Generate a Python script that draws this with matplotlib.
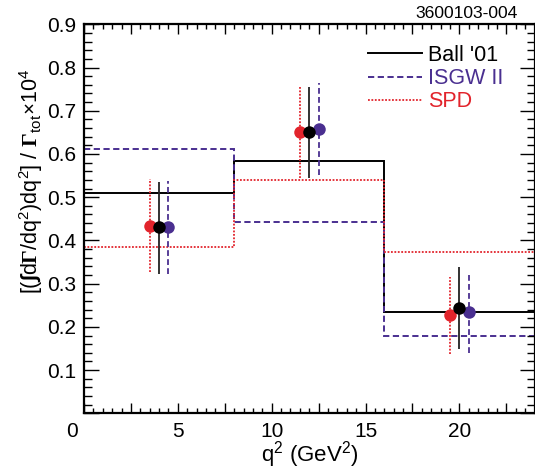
import matplotlib
matplotlib.use("Agg")
import matplotlib.pyplot as plt
from matplotlib.ticker import MultipleLocator, FuncFormatter
from matplotlib.transforms import ScaledTranslation
from matplotlib.lines import Line2D
import numpy as np

# ---- data ----
bin_edges = [0, 8, 16, 24]
ball_hist = [0.510, 0.583, 0.235]
isgw_hist = [0.611, 0.443, 0.179]
spd_hist = [0.385, 0.540, 0.373]

ball_x = [4.0, 12.0, 20.0]
ball_y = [0.431, 0.650, 0.244]
ball_lo = [0.322, 0.544, 0.148]
ball_hi = [0.536, 0.756, 0.338]

spd_x = [3.5, 11.5, 19.5]
spd_y = [0.434, 0.650, 0.227]
spd_lo = [0.326, 0.544, 0.137]
spd_hi = [0.541, 0.756, 0.316]

isgw_x = [4.5, 12.5, 20.5]
isgw_y = [0.431, 0.658, 0.234]
isgw_lo = [0.322, 0.551, 0.140]
isgw_hi = [0.537, 0.765, 0.325]

labels = ["Ball '01", "ISGW II", "SPD"]

# ---- style ----
plt.rcParams['font.family'] = ['Liberation Sans', 'DejaVu Sans']
plt.rcParams['mathtext.fontset'] = 'custom'
plt.rcParams['mathtext.rm'] = 'Liberation Sans'
plt.rcParams['mathtext.it'] = 'Liberation Sans:italic'
plt.rcParams['mathtext.bf'] = 'Liberation Serif:bold'
plt.rcParams['mathtext.sf'] = 'Liberation Sans:bold:italic'

RED = '#e2242c'
PURPLE = '#4a2f90'
BLACK = '#000000'

fig = plt.figure(figsize=(5.35, 4.69), dpi=100)
ax = fig.add_axes([84/535, (469-413.3)/469, (534.5-84)/535, (413.3-24.3)/469])

dash = (0, (3.2, 1.8))
dot = (0, (1, 0.9))

ax.stairs(ball_hist, bin_edges, baseline=None, color=BLACK, lw=1.4)
ax.stairs(isgw_hist, bin_edges, baseline=None, color=PURPLE, lw=1.4, linestyle=dash)
ax.stairs(spd_hist, bin_edges, baseline=None, color=RED, lw=1.3, linestyle=dot)

def draw_points(x, y, lo, hi, color, ls, ecolor, z):
    y = np.array(y); lo = np.array(lo); hi = np.array(hi)
    eb = ax.errorbar(x, y, yerr=[y - lo, hi - y], fmt='o', color=color,
                     ecolor=ecolor, elinewidth=1.3, capsize=0, markersize=9,
                     markeredgewidth=0, zorder=z)
    for lc in eb[2]:
        lc.set_linestyle(ls)
    return eb

draw_points(spd_x, spd_y, spd_lo, spd_hi, RED, dot, RED, 3)
draw_points(isgw_x, isgw_y, isgw_lo, isgw_hi, PURPLE, dash, PURPLE, 4)
draw_points(ball_x, ball_y, ball_lo, ball_hi, BLACK, '-', '#222222', 5)

ax.set_xlim(0, 24)
ax.set_ylim(0, 0.9)

ax.xaxis.set_major_locator(MultipleLocator(2.5))
ax.xaxis.set_minor_locator(MultipleLocator(0.5))
ax.yaxis.set_major_locator(MultipleLocator(0.1))
ax.yaxis.set_minor_locator(MultipleLocator(0.02))

def xfmt(v, pos):
    if abs(v) < 1e-9:
        return ''
    if abs(v - round(v)) < 1e-9 and int(round(v)) % 5 == 0:
        return '%d' % int(round(v))
    return ''

def yfmt(v, pos):
    if abs(v) < 1e-9:
        return ''
    return '%.1f' % v

ax.xaxis.set_major_formatter(FuncFormatter(xfmt))
ax.yaxis.set_major_formatter(FuncFormatter(yfmt))

TICK_FS = 15
ax.tick_params(axis='both', which='both', direction='in', top=True, right=True,
               labelsize=TICK_FS, width=1.0)
ax.tick_params(axis='x', which='major', length=7.5, pad=6)
ax.tick_params(axis='x', which='minor', length=3.8)
ax.tick_params(axis='y', which='major', length=10.5, pad=5.5)
ax.tick_params(axis='y', which='minor', length=5.5)
for s in ax.spines.values():
    s.set_linewidth(1.6)

# ROOT style "0" label shifted left
ax.text(0, 0, '0', transform=ax.get_xaxis_transform()
        + ScaledTranslation(-12/100, -8.5/100, fig.dpi_scale_trans),
        ha='center', va='top', fontsize=TICK_FS)

ax.set_xlabel(r'q$^2$ (GeV$^2$)', fontsize=16, labelpad=-1)
ax.set_ylabel(r'$\mathrm{[(}\mathsf{X}\mathrm{d}\mathbf{\Gamma}\mathrm{/dq^2)dq^2]\ /\ }\mathbf{\Gamma}_{\mathrm{tot}}\mathbf{\times}\mathrm{10^4}$'.replace('X', '\u222B'),
              fontsize=15.5, labelpad=2)
ax.yaxis.set_label_coords(-0.086, 0.597)

handles = [Line2D([], [], color=BLACK, lw=1.4),
           Line2D([], [], color=PURPLE, lw=1.4, linestyle=dash),
           Line2D([], [], color=RED, lw=1.3, linestyle=dot)]
leg = ax.legend(handles, labels, loc='upper right', bbox_to_anchor=(0.93, 0.947),
                frameon=False, fontsize=15.5, handlelength=2.5, handletextpad=0.25,
                labelspacing=0.1, borderaxespad=0, borderpad=0)
for txt, c in zip(leg.get_texts(), [BLACK, PURPLE, RED]):
    txt.set_color(c)

fig.text(518/535, 1 - 13/469, '3600103-004', ha='right', va='center', fontsize=12.6)

fig.savefig('out.png', dpi=100)
